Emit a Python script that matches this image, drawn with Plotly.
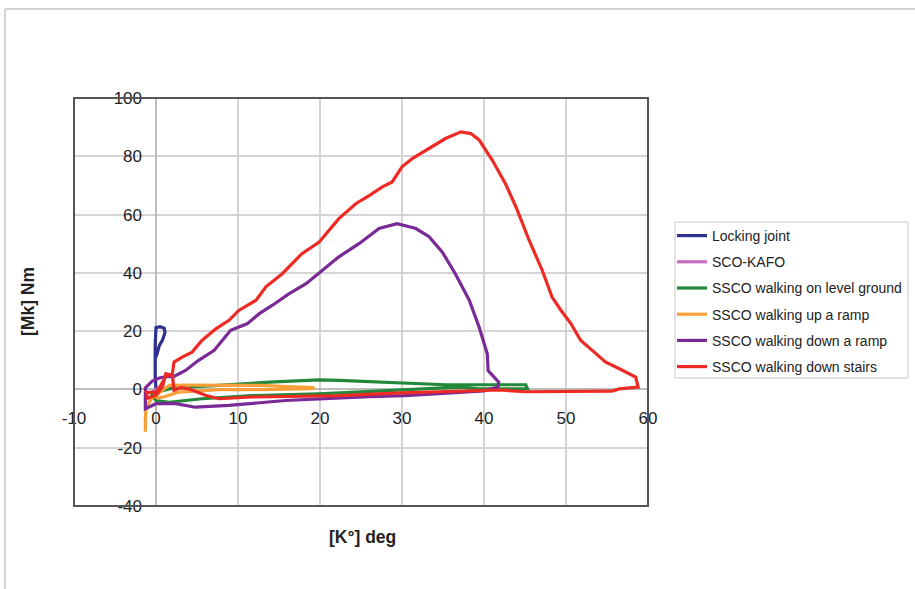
import plotly.graph_objects as go

# ---- data ----
series_names = ["Locking joint", "SCO-KAFO", "SSCO walking on level ground",
                "SSCO walking up a ramp", "SSCO walking down a ramp",
                "SSCO walking down stairs"]

lock_x = [0, -0.1, -0.1, 0, 0.5, 1.0, 1.1, 0.8, 0.4, 0.1, 0]
lock_y = [0, 5, 15, 21.2, 21.5, 21.0, 19.5, 17, 15, 12.5, 11]

kafo_x = [-0.5, 0, 0.5]
kafo_y = [-1, 0, 0.5]

level_x = [0, 1.6, 4, 7.7, 13.8, 19.9, 22.3, 27.2, 31.3, 35.3, 40, 45.1, 45.3, 42, 39.4,
           37, 33, 28, 24, 19.9, 11.7, 5.6, 1.6, 0, -0.5, 0]
level_y = [-1, 0.2, 0.9, 1.4, 2.5, 3.3, 3.1, 2.5, 1.9, 1.6, 1.6, 1.6, 0.2, 0.2, 0.2,
           0.8, 0.3, -0.3, -1, -1.5, -2.1, -3.2, -4.4, -3.8, -2, -1]

up_x = [-1.3, -1.3, -1.2, -0.5, 0.5, 1.6, 4, 7.7, 13, 16, 18.5, 19.3, 19.1, 16, 13, 7.7,
        2.8, 1, 0]
up_y = [-14.5, -10, -6, -3, -1, 1.4, 1.5, 1.4, 1.4, 1.0, 0.9, 0.6, 0.3, 0.0, -0.1, -0.1,
        -0.9, -2.5, -3]

down_x = [-0.4, 0.5, 1.6, 2.0, 3.6, 5.2, 7.1, 8.1, 9.1, 11.1, 12.6, 14.2, 16.2, 18.3, 20.3,
          22.3, 24.8, 27.2, 29.4, 31.7, 33.3, 34.9, 36.5, 38.2, 39.4, 40.4, 40.5, 41.2, 41.8,
          41.7, 40, 36, 30.4, 26, 22.3, 15.8, 8.9, 4.8, 2.4, 0, -1.3, -1.3, -1.3, -0.4]
down_y = [3.0, 4.0, 4.5, 4.2, 6.5, 10.0, 13.4, 16.8, 20.3, 22.5, 26.0, 28.9, 32.8, 36.3, 40.9,
          45.5, 50.1, 55.2, 56.9, 55.2, 52.4, 47.2, 39.7, 30.6, 21.4, 12.2, 6.5, 4.2, 2.5,
          0.8, -0.5, -1.2, -2.1, -2.5, -2.9, -3.8, -5.5, -6.1, -4.9, -4.9, -6.6, -2.0, 0.5, 3.0]

stairs_x = [0, 0.5, 1.2, 2.0, 2.2, 3.2, 4.4, 5.6, 7.3, 8.9, 10.1, 12.2, 13.4, 15.4, 17.8, 19.9,
            22.3, 24.4, 26, 27.6, 28.8, 30.0, 31.3, 33.3, 35.3, 37.2, 38.4, 39.4, 41.0, 42.6,
            43.9, 45.5, 47.1, 48.3, 49.4, 50.6, 51.8, 53.2, 54.8, 56.5, 58.5, 58.8, 56.5, 55.6,
            50, 45, 42, 38, 30, 22.3, 11.7, 7.7, 6.1, 4.0, 3.0, 2.2, 2.0, 1.2, 0.8, 0, -1,
            -1.2, 0]
stairs_y = [-1, 1, 4.5, 5.4, 9.4, 11.1, 12.8, 16.8, 20.8, 23.7, 27.1, 30.6, 35.2, 39.7, 46.6,
            50.6, 58.6, 63.8, 66.5, 69.5, 71.2, 76.4, 79.3, 82.7, 86.1, 88.4, 87.8, 85.6, 78.7,
            70.7, 62.6, 51.2, 40.9, 31.7, 27.1, 22.6, 16.8, 13.4, 9.4, 7.1, 4.2, 0.8, 0.2, -0.6,
            -0.8, -0.8, -0.2, -0.5, -1.2, -2.1, -2.6, -3.2, -2.1, 0.2, 0.6, -0.3, 4.8, 5.4, 1,
            -2, -3, -1, -1]

x_ticks = [-10, 0, 10, 20, 30, 40, 50, 60]
x_ticklabels = ["-10", "0", "10", "20", "30", "40", "50", "60"]
y_ticks = [-40, -20, 0, 20, 40, 60, 80, 100]
y_ticklabels = ["-40", "-20", "0", "20", "40", "60", "80", "100"]
x_title = "[K°] deg"
y_title = "[Mk] Nm"

colors = ["#2e3192", "#c46fc4", "#23883a", "#f7a03a", "#7a2a96", "#ee2a24"]
xs = [lock_x, kafo_x, level_x, up_x, down_x, stairs_x]
ys = [lock_y, kafo_y, level_y, up_y, down_y, stairs_y]

fig = go.Figure()
for i, (name, x, y, c) in enumerate(zip(series_names, xs, ys, colors)):
    fig.add_trace(go.Scatter(x=x, y=y, mode="lines", name=name, legendgroup=f"g{i}",
                             line=dict(color=c, width=3.2)))

FONT = "Liberation Sans, Arial, Helvetica, sans-serif"
xmin, xmax = -10, 60
ymin, ymax = -40, 100
L, T, W, H = 74, 98, 574, 408


def px_x(p):
    return (p - L) / W


def px_y(p):
    return (T + H - p) / H


fig.update_layout(
    width=915, height=589,
    margin=dict(l=L, r=915 - L - W, t=T, b=589 - T - H, autoexpand=False),
    paper_bgcolor="white", plot_bgcolor="white",
    font=dict(family=FONT, size=17, color="#222"),
    showlegend=True,
    legend=dict(x=px_x(672), y=px_y(220), xanchor="left", yanchor="top",
                borderwidth=0, bgcolor="rgba(0,0,0,0)",
                font=dict(family=FONT, size=14, color="#222"),
                tracegroupgap=5, itemwidth=30),
    xaxis=dict(range=[xmin, xmax], tickvals=x_ticks, ticktext=x_ticklabels, showgrid=True,
               gridcolor="#d4d4d4", gridwidth=1.5, zeroline=True,
               zerolinecolor="#bdbdbd", zerolinewidth=1.5, showline=False,
               anchor="free", position=(0 - ymin) / (ymax - ymin),
               ticks="", ticklabelstandoff=17, tickfont=dict(size=17, color="#222")),
    yaxis=dict(range=[ymin, ymax], tickvals=y_ticks, ticktext=y_ticklabels, showgrid=True,
               gridcolor="#d4d4d4", gridwidth=1.5, zeroline=True,
               zerolinecolor="#bdbdbd", zerolinewidth=1.5, showline=False,
               anchor="free", position=(0 - xmin) / (xmax - xmin),
               ticks="", ticklabelstandoff=14, tickfont=dict(size=17, color="#222")),
    annotations=[
        dict(text=f"<b>{x_title}</b>", xref="paper", yref="paper",
             x=px_x(362), y=px_y(537), xanchor="center", yanchor="middle", showarrow=False,
             font=dict(family=FONT, size=17.5, color="#222")),
        dict(text=f"<b>{y_title}</b>", xref="paper", yref="paper",
             x=px_x(28), y=px_y(302), xanchor="center", yanchor="middle", showarrow=False,
             textangle=-90, font=dict(family=FONT, size=17.5, color="#222")),
    ],
    shapes=[
        dict(type="rect", xref="paper", yref="paper", x0=0, x1=1, y0=0, y1=1,
             line=dict(color="#555555", width=2), layer="above"),
        dict(type="rect", xref="paper", yref="paper", x0=px_x(675), x1=px_x(908),
             y0=px_y(378), y1=px_y(222), line=dict(color="#c8c8c8", width=1)),
        dict(type="line", xref="paper", yref="paper", x0=px_x(5), x1=px_x(915),
             y0=px_y(9), y1=px_y(9), line=dict(color="#c4c4c4", width=1.5)),
        dict(type="line", xref="paper", yref="paper", x0=px_x(5), x1=px_x(5),
             y0=px_y(9), y1=px_y(600), line=dict(color="#c4c4c4", width=1.5)),
    ],
)

fig.write_html("out.html")
